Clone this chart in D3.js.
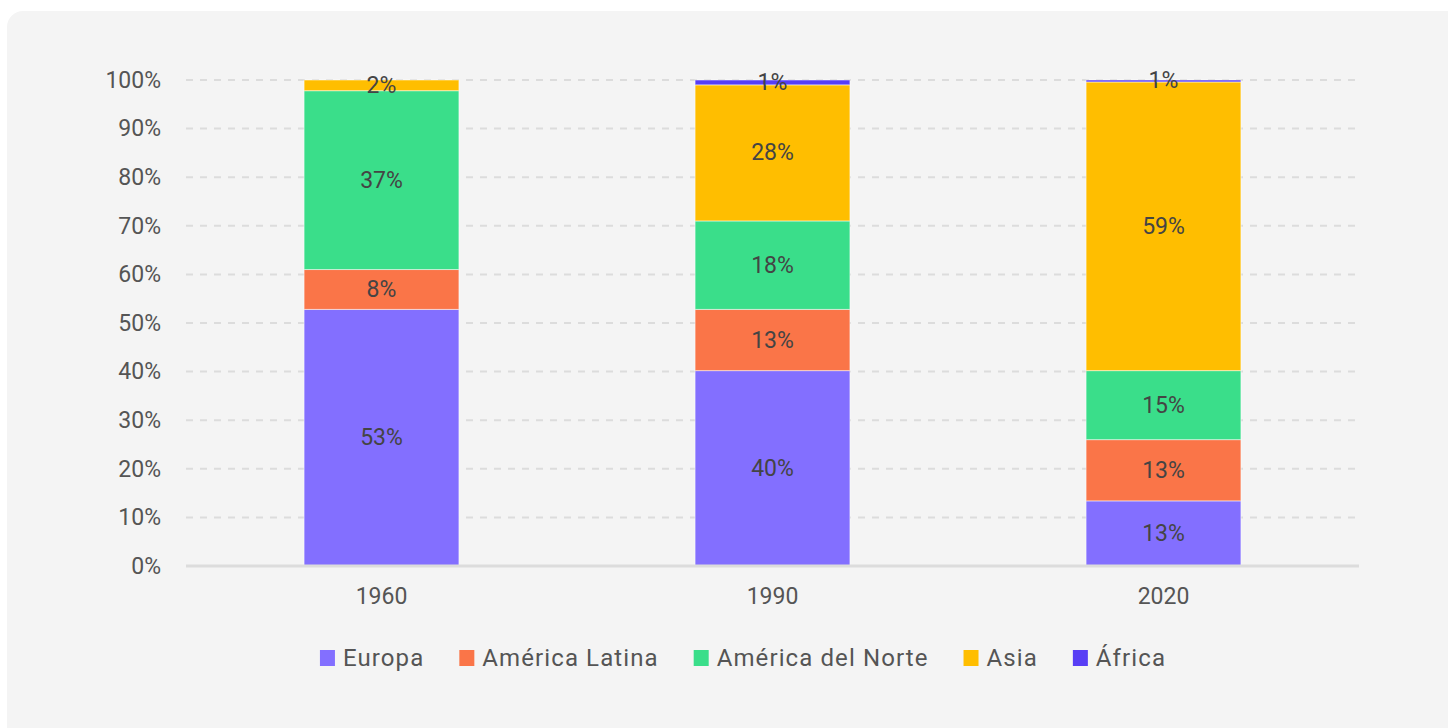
<!DOCTYPE html>
<html>
<head>
<meta charset="utf-8">
<script src="https://cdn.jsdelivr.net/npm/d3@7"></script>
<style>
  html, body { margin: 0; padding: 0; background: #fff; }
  svg { display: block; font-family: Roboto, "Noto Sans", sans-serif; }
</style>
</head>
<body>
<div id="chart"></div>
<script>
// data
var years = ["1960", "1990", "2020"];
var regions = ["Europa", "América Latina", "América del Norte", "Asia", "África"];
var colors = ["#836fff", "#fa7548", "#3ade8a", "#ffbe00", "#583ef5"];
var europa = [52.8, 40.2, 13.4];
var americaLatina = [8.2, 12.6, 12.6];
var americaNorte = [36.8, 18.2, 14.2];
var asia = [2.2, 28.0, 59.4];
var africa = [0, 1.0, 0.4];
// labels as printed on the bars
var europaLbl = ["53%", "40%", "13%"];
var americaLatinaLbl = ["8%", "13%", "13%"];
var americaNorteLbl = ["37%", "18%", "15%"];
var asiaLbl = ["2%", "28%", "59%"];
var africaLbl = ["", "1%", "1%"];
var yTicks = [0, 10, 20, 30, 40, 50, 60, 70, 80, 90, 100];

var series = [europa, americaLatina, americaNorte, asia, africa];
var labels = [europaLbl, americaLatinaLbl, americaNorteLbl, asiaLbl, africaLbl];

var W = 1448, H = 728;
var margin = {top: 80, right: 89, bottom: 162, left: 186};
var width = W - margin.left - margin.right;
var height = H - margin.top - margin.bottom;

var svg = d3.select("#chart")
  .append("svg")
    .attr("width", W)
    .attr("height", H);

// card background
svg.append("rect")
    .attr("x", 7).attr("y", 11)
    .attr("width", W + 20).attr("height", H + 20)
    .attr("rx", 16)
    .style("fill", "#f4f4f4");

var g = svg.append("g")
    .attr("transform", "translate(" + margin.left + "," + margin.top + ")");

var x = d3.scaleBand()
    .domain(years)
    .range([0, width])
    .paddingInner(0.604)
    .paddingOuter(0.302);

var y = d3.scaleLinear()
    .domain([0, 100])
    .range([height, 0]);

// grid
g.selectAll(".grid")
  .data(yTicks.filter(function(d) { return d > 0; }))
  .enter()
  .append("line")
    .attr("x1", 0).attr("x2", width)
    .attr("y1", function(d) { return y(d); })
    .attr("y2", function(d) { return y(d); })
    .style("stroke", "#dcdcdc")
    .style("stroke-width", 2)
    .style("stroke-dasharray", "7,7");

// y axis labels
var yAxis = g.append("g")
    .call(d3.axisLeft(y).tickValues(yTicks).tickSize(0).tickPadding(25)
      .tickFormat(function(d) { return d + "%"; }));
yAxis.select(".domain").remove();
yAxis.selectAll("text")
    .style("font-size", "23px")
    .style("fill", "#555")
    .style("font-family", "Roboto, sans-serif");

// stack
var rows = years.map(function(yr, i) {
  var r = {year: yr, idx: i};
  regions.forEach(function(reg, k) { r[reg] = series[k][i]; });
  return r;
});
var stacked = d3.stack().keys(regions)(rows);

var layer = g.selectAll(".layer")
  .data(stacked)
  .enter()
  .append("g")
    .style("fill", function(d, k) { return colors[k]; });

layer.selectAll("rect")
  .data(function(d) { return d; })
  .enter()
  .append("rect")
    .attr("x", function(d) { return x(d.data.year); })
    .attr("y", function(d) { return y(d[1]); })
    .attr("width", x.bandwidth())
    .attr("height", function(d) { return y(d[0]) - y(d[1]); })
    .style("stroke", "rgba(255,255,255,0.5)")
    .style("stroke-width", 1);

// baseline
g.append("line")
    .attr("x1", 0).attr("x2", width)
    .attr("y1", height).attr("y2", height)
    .style("stroke", "#dcdcdc")
    .style("stroke-width", 3);

// bar labels
stacked.forEach(function(s, k) {
  g.selectAll(".lbl" + k)
    .data(s)
    .enter()
    .append("text")
      .attr("x", function(d) { return x(d.data.year) + x.bandwidth() / 2; })
      .attr("y", function(d) { return (y(d[0]) + y(d[1])) / 2; })
      .attr("text-anchor", "middle")
      .attr("dominant-baseline", "central")
      .style("font-size", "23px")
      .style("fill", "#444")
      .text(function(d) { return labels[k][d.data.idx]; });
});

// x axis labels
var xAxis = g.append("g")
    .attr("transform", "translate(0," + height + ")")
    .call(d3.axisBottom(x).tickSize(0).tickPadding(22));
xAxis.select(".domain").remove();
xAxis.selectAll("text")
    .style("font-size", "23px")
    .style("fill", "#555")
    .style("font-family", "Roboto, sans-serif");

// legend
var legend = svg.append("g").attr("transform", "translate(0,658)");
var items = legend.selectAll(".item")
  .data(regions)
  .enter()
  .append("g");
items.append("rect")
    .attr("y", -8)
    .attr("width", 15).attr("height", 16)
    .style("fill", function(d, k) { return colors[k]; });
items.append("text")
    .attr("x", 23)
    .attr("dominant-baseline", "central")
    .style("font-size", "24px")
    .style("letter-spacing", "1.1px")
    .style("fill", "#555")
    .text(function(d) { return d; });

var widths = [];
items.each(function() { widths.push(this.getBBox().width); });
var gap = 35;
var total = d3.sum(widths) + gap * (widths.length - 1);
var cx = (321 + 1165) / 2;
var pos = cx - total / 2;
items.attr("transform", function(d, k) {
  var t = "translate(" + pos + ",0)";
  pos += widths[k] + gap;
  return t;
});
</script>
</body>
</html>
